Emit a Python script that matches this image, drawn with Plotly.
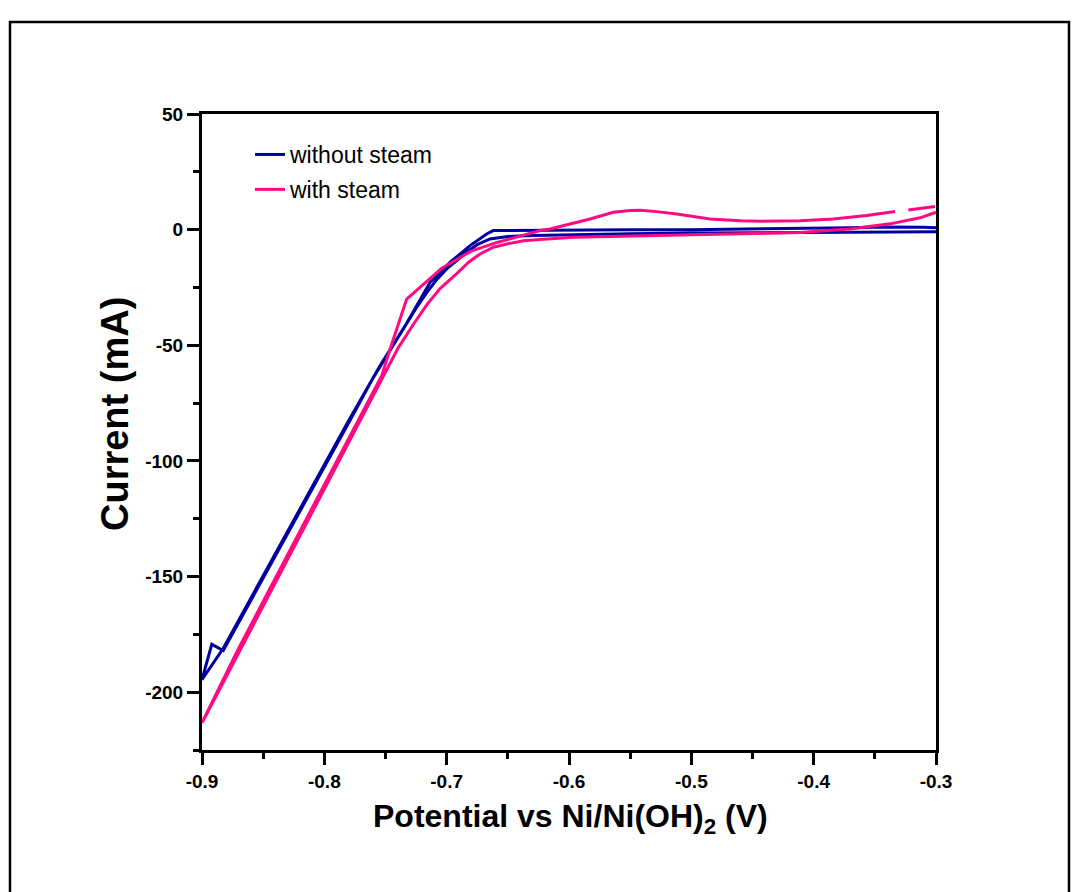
import plotly.graph_objects as go

# ---- cyclic voltammetry data: potential (V vs Ni/Ni(OH)2), current (mA) ----

# without steam: cathodic sweep (-0.3 -> -0.9 V)
dry_fwd_v = [-0.300, -0.350, -0.400, -0.450, -0.500, -0.550, -0.600, -0.630, -0.650,
             -0.6646, -0.675, -0.6836, -0.692, -0.700, -0.708, -0.7163, -0.725, -0.7408,
             -0.760, -0.7804, -0.8144, -0.847, -0.870, -0.8826, -0.892, -0.900]
dry_fwd_i = [-0.9, -1.0, -1.2, -1.4, -1.5, -1.8, -2.1, -2.5, -3.0,
             -4.0, -6.5, -9.8, -13.5, -17.0, -21.5, -27.2, -34.0, -47.4,
             -64.0, -83.8, -116.5, -148.0, -170.0, -182.0, -179.3, -194.6]

# without steam: anodic sweep (-0.9 -> -0.3 V)
dry_rev_v = [-0.8826, -0.847, -0.8144, -0.7804, -0.7545, -0.7327, -0.7136, -0.6973,
             -0.6809, -0.6673, -0.662, -0.640, -0.600, -0.550, -0.500, -0.450, -0.400,
             -0.370, -0.345, -0.325, -0.310, -0.300]
dry_rev_i = [-181.0, -146.8, -115.4, -82.8, -58.9, -40.5, -22.8, -14.2,
             -6.9, -1.9, -0.4, -0.3, -0.2, -0.1, 0.0, 0.2, 0.5,
             0.8, 1.1, 1.2, 1.0, 0.8]

# with steam: cathodic sweep (-0.3 -> -0.9 V)
wet_fwd_v = [-0.300, -0.313, -0.3376, -0.3703, -0.4112, -0.4500, -0.4929, -0.5420, -0.5746,
             -0.5965, -0.6237, -0.6373, -0.6509, -0.6618, -0.6727, -0.6818, -0.6918, -0.7054,
             -0.7163, -0.7273, -0.7395, -0.7518, -0.7708, -0.8000, -0.8300, -0.8600, -0.8908,
             -0.9000]
wet_fwd_i = [7.5, 5.1, 2.5, 0.3, -1.2, -1.7, -2.2, -2.6, -3.0,
             -3.3, -4.3, -4.8, -6.2, -7.6, -10.5, -14.0, -19.0, -25.5,
             -32.5, -41.0, -51.0, -63.5, -82.8, -112.3, -142.6, -172.9, -204.0,
             -213.2]

# with steam: anodic sweep (-0.9 -> -0.3 V); None marks a break in the record
wet_rev_v = [-0.8700, -0.8300, -0.7900, -0.7650, -0.7530, -0.7463, -0.7327, -0.7218,
             -0.7040, -0.6800, -0.6600, -0.6400, -0.6237, -0.6155, -0.6000, -0.5828,
             -0.5638, -0.5500, -0.5420, -0.5300, -0.5120, -0.4847, -0.4600, -0.4439,
             -0.4112, -0.3840, -0.3567, -0.3335, None, -0.3226, -0.3008]
wet_rev_i = [-181.0, -140.5, -100.0, -74.8, -63.0, -51.7, -30.0, -25.0,
             -16.7, -9.3, -5.7, -2.8, -0.4, 0.3, 2.2, 4.6,
             7.5, 8.3, 8.4, 7.9, 6.8, 4.6, 3.8, 3.6,
             3.8, 4.6, 6.1, 7.8, None, 8.5, 10.0]

series_names = ["without steam", "with steam"]
series_colors = ["#0000A0", "#FF0A82"]

x_tick_vals = [-0.9, -0.8, -0.7, -0.6, -0.5, -0.4, -0.3]
x_tick_text = ["-0.9", "-0.8", "-0.7", "-0.6", "-0.5", "-0.4", "-0.3"]
y_tick_vals = [-200, -150, -100, -50, 0, 50]
y_tick_text = ["-200", "-150", "-100", "-50", "0", "50"]

FONT = "Liberation Sans, Arial, Helvetica, sans-serif"

W, H = 1073, 892
L, R, T, B = 202, 137, 114, 142
pw, ph = W - L - R, H - T - B


def px_to_paper(px, py):
    return (px - L) / pw, (H - B - py) / ph


fig = go.Figure()
fig.add_trace(go.Scatter(
    x=dry_fwd_v + dry_rev_v, y=dry_fwd_i + dry_rev_i,
    mode="lines", name=series_names[0], legendgroup="a",
    line=dict(color=series_colors[0], width=3),
))
fig.add_trace(go.Scatter(
    x=wet_fwd_v + wet_rev_v, y=wet_fwd_i + wet_rev_i,
    mode="lines", name=series_names[1], legendgroup="b",
    line=dict(color=series_colors[1], width=3),
))

axis_common = dict(
    showline=True, linewidth=3, linecolor="black", mirror=True,
    showgrid=False, zeroline=False,
    ticks="outside", ticklen=12, tickwidth=2.5, tickcolor="black",
    tickfont=dict(family=FONT, size=19, color="black", weight="bold"),
    tickmode="array",
)

fig.update_xaxes(
    **axis_common,
    range=[-0.9, -0.3], tickvals=x_tick_vals, ticktext=x_tick_text,
    minor=dict(tickmode="linear", tick0=-0.9, dtick=0.05, ticks="outside",
               ticklen=6, tickwidth=2.5, tickcolor="black"),
)
fig.update_yaxes(
    **axis_common,
    range=[-225, 50], tickvals=y_tick_vals, ticktext=y_tick_text,
    minor=dict(tickmode="linear", tick0=-225, dtick=25, ticks="outside",
               ticklen=6, tickwidth=2.5, tickcolor="black"),
)

ytx, yty = px_to_paper(115, 414)
xtx, xty = px_to_paper(570, 818)
bx0, by1 = px_to_paper(10, 22)
bx1, by0 = px_to_paper(1069, 905)
lgx, lgy = px_to_paper(250, 133)

fig.update_layout(
    width=W, height=H,
    margin=dict(l=L, r=R, t=T, b=B, pad=0),
    paper_bgcolor="white", plot_bgcolor="white",
    showlegend=True,
    legend=dict(
        x=lgx, y=lgy, xanchor="left", yanchor="top",
        bgcolor="rgba(0,0,0,0)", borderwidth=0,
        font=dict(family=FONT, size=23, color="black"),
        tracegroupgap=2,
    ),
    annotations=[
        dict(text="Current (mA)", textangle=-90, xref="paper", yref="paper",
             x=ytx, y=yty, xanchor="center", yanchor="middle", showarrow=False,
             font=dict(family=FONT, size=38, color="black", weight="bold")),
        dict(text="Potential vs Ni/Ni(OH)<sub>2</sub> (V)", xref="paper", yref="paper",
             x=xtx, y=xty, xanchor="center", yanchor="middle", showarrow=False,
             font=dict(family=FONT, size=32, color="black", weight="bold")),
    ],
    shapes=[
        dict(type="rect", xref="paper", yref="paper", x0=bx0, x1=bx1, y0=by0, y1=by1,
             line=dict(color="black", width=2.5), fillcolor="rgba(0,0,0,0)", layer="below"),
    ],
)

fig.write_html("out.html")
